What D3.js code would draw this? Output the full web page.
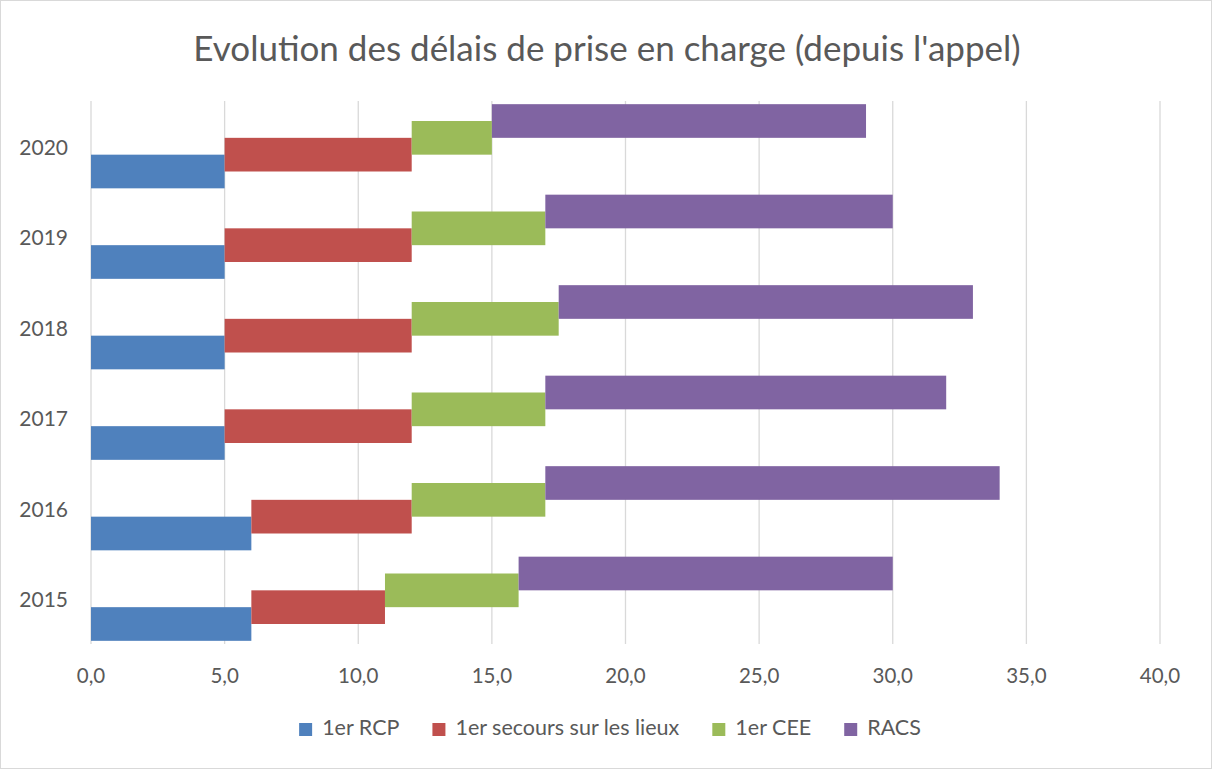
<!DOCTYPE html>
<html lang="fr">
<head>
<meta charset="UTF-8">
<script src="https://cdn.jsdelivr.net/npm/d3@7"></script>
<title>Evolution des délais</title>
<style>
  body { margin: 0; background: #fff; }
  text { font-family: Lato, "Open Sans", sans-serif; fill: #595959; }
</style>
</head>
<body>
<svg width="1212" height="769"></svg>
<script>
// years from top to bottom
const years = ['2020', '2019', '2018', '2017', '2016', '2015'];
// cumulative time since the call (end of each step), minutes
const rcp     = [5, 5, 5, 5, 6, 6];
const secours = [12, 12, 12, 12, 12, 11];
const cee     = [15, 17, 17.5, 17, 17, 16];
const racs    = [29, 30, 33, 32, 34, 30];
const seriesNames = ['1er RCP', '1er secours sur les lieux', '1er CEE', 'RACS'];
const colors = ['#4f81bd', '#c0504d', '#9bbb59', '#8064a2'];
const xTicks = [0, 5, 10, 15, 20, 25, 30, 35, 40];

const series = [rcp, secours, cee, racs];

const svg = d3.select('svg');
const W = 1212, H = 769;
const m = { left: 91, right: 52, top: 101, bottom: 125 };

svg.append('rect').attr('x', 0.5).attr('y', 0.5).attr('width', W - 1).attr('height', H - 1)
  .attr('fill', '#fff').attr('stroke', '#d9d9d9');

const x = d3.scaleLinear().domain([0, 40]).range([m.left, W - m.right]);
const y = d3.scaleBand().domain(years).range([m.top, H - m.bottom]).paddingInner(0).paddingOuter(0);

// gridlines
svg.append('g').selectAll('line').data(xTicks).join('line')
  .attr('x1', d => x(d)).attr('x2', d => x(d))
  .attr('y1', m.top).attr('y2', H - m.bottom)
  .attr('stroke', '#d9d9d9').attr('stroke-width', 1.3);

// bars: each step starts where the previous ends, 50% overlap stacking upward
const band = y.bandwidth();
const barH = band * 0.93 / 2.5;
const step = barH / 2;
const rows = [];
years.forEach((yr, i) => {
  series.forEach((s, k) => {
    const start = k === 0 ? 0 : series[k - 1][i];
    rows.push({ yr, k, start, end: s[i] });
  });
});
const clusterTop = (band - barH * 2.5) / 2;
svg.append('g').selectAll('rect').data(rows).join('rect')
  .attr('x', d => x(d.start))
  .attr('width', d => x(d.end) - x(d.start))
  .attr('y', d => y(d.yr) + clusterTop + (3 - d.k) * step)
  .attr('height', barH)
  .attr('fill', d => colors[d.k]);

// y labels
svg.append('g').selectAll('text').data(years).join('text')
  .attr('x', 68).attr('y', d => y(d) + band / 2 + 3)
  .attr('text-anchor', 'end').attr('dominant-baseline', 'middle')
  .attr('font-size', 21).text(d => d);

// x labels
svg.append('g').selectAll('text').data(xTicks).join('text')
  .attr('x', d => x(d)).attr('y', 683)
  .attr('text-anchor', 'middle').attr('font-size', 20.5)
  .text(d => d3.format('.1f')(d).replace('.', ','));

// title
svg.append('text').attr('x', W / 2 + 1).attr('y', 61)
  .attr('text-anchor', 'middle').attr('font-size', 35)
  .text("Evolution des délais de prise en charge (depuis l'appel)");

// legend
const lg = svg.append('g');
let lx = 0;
seriesNames.forEach((n, k) => {
  const g = lg.append('g').attr('transform', `translate(${lx},0)`);
  g.append('rect').attr('x', 0).attr('y', -6).attr('width', 13).attr('height', 13).attr('fill', colors[k]);
  const t = g.append('text').attr('x', 23).attr('y', 1).attr('dominant-baseline', 'middle')
    .attr('font-size', 21.5).text(n);
  lx += 23 + t.node().getComputedTextLength() + 33;
});
const lw = lx - 33;
lg.attr('transform', `translate(${(W - lw) / 2 + 4},729)`);
</script>
</body>
</html>
